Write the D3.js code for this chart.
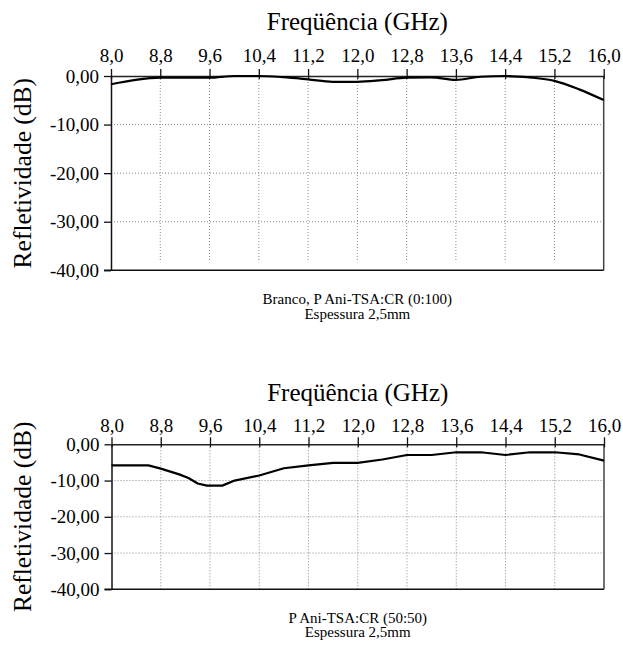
<!DOCTYPE html>
<html>
<head>
<meta charset="utf-8">
<script src="https://cdn.jsdelivr.net/npm/d3@7"></script>
<style>
  body { margin: 0; background: #fff; }
  svg text { font-family: "Liberation Serif", Tinos, "Times New Roman", Times, "DejaVu Serif", serif !important; fill: #000; }
</style>
</head>
<body>
<svg id="fig" width="623" height="651"></svg>
<script>
// tick values shared by both panels
const freqTicks = [8.0, 8.8, 9.6, 10.4, 11.2, 12.0, 12.8, 13.6, 14.4, 15.2, 16.0];
const dbTicks = [0, -10, -20, -30, -40];

// Branco, P Ani-TSA:CR (0:100)
const brancoFreq = [8.0, 8.4, 8.8, 9.2, 9.6, 10.0, 10.4, 10.8, 11.2, 11.6, 12.0, 12.4, 12.8, 13.2, 13.6, 14.0, 14.4, 14.8, 15.2, 15.6, 16.0];
const brancoDb   = [-1.7, -0.8, -0.35, -0.35, -0.35, 0, 0, -0.25, -0.7, -1.2, -1.2, -0.85, -0.35, -0.3, -0.8, -0.15, 0, -0.3, -1.0, -2.75, -4.95];

// P Ani-TSA:CR (50:50)
const pAniFreq = [8.0, 8.6, 8.8, 9.1, 9.25, 9.4, 9.55, 9.8, 10.0, 10.4, 10.8, 11.2, 11.6, 12.0, 12.4, 12.8, 13.2, 13.6, 14.0, 14.4, 14.8, 15.2, 15.6, 16.0];
const pAniDb   = [-5.8, -5.8, -6.7, -8.3, -9.3, -10.8, -11.4, -11.4, -10.0, -8.6, -6.6, -5.8, -5.1, -5.1, -4.2, -2.95, -2.95, -2.2, -2.2, -2.95, -2.2, -2.2, -2.8, -4.5];

const captionTop = ["Branco, P Ani-TSA:CR (0:100)", "Espessura 2,5mm"];
const captionBottom = ["P Ani-TSA:CR (50:50)", "Espessura 2,5mm"];

// comma decimals and plain hyphen minus
const loc = d3.formatLocale({decimal: ",", thousands: ".", grouping: [3], currency: ["", ""], minus: "-"});
const fmtX = loc.format(".1f");
const fmtY = loc.format(".2f");

const svg = d3.select('#fig');

function drawPanel(cfg, freq, db, curve, caption) {
  const x = d3.scaleLinear().domain([8, 16]).range([cfg.left, cfg.right]);
  const y = d3.scaleLinear().domain([0, -40]).range([cfg.top, cfg.bottom]);
  const g = svg.append('g');

  // dotted grid
  g.selectAll('.vgrid')
    .data(freqTicks.slice(1, -1))
    .enter().append('line')
    .attr('x1', d => x(d)).attr('x2', d => x(d))
    .attr('y1', cfg.top).attr('y2', cfg.bottom - cfg.gridGap)
    .attr('stroke', '#8a8a8a').attr('stroke-width', 1)
    .attr('stroke-dasharray', '1,2');

  g.selectAll('.hgrid')
    .data(dbTicks.slice(1, -1))
    .enter().append('line')
    .attr('x1', cfg.left).attr('x2', cfg.right)
    .attr('y1', d => y(d)).attr('y2', d => y(d))
    .attr('stroke', '#8a8a8a').attr('stroke-width', 1)
    .attr('stroke-dasharray', '1,2');

  // frame: right and bottom sides
  g.append('line')
    .attr('x1', cfg.right).attr('x2', cfg.right)
    .attr('y1', cfg.top).attr('y2', cfg.bottom)
    .attr('stroke', '#444').attr('stroke-width', 1.5);
  g.append('line')
    .attr('x1', cfg.left - 7).attr('x2', cfg.right)
    .attr('y1', cfg.bottom).attr('y2', cfg.bottom)
    .attr('stroke', '#111').attr('stroke-width', 1.5);

  // x axis on top
  const xAxis = d3.axisTop(x).tickValues(freqTicks).tickFormat(fmtX).tickSize(7).tickSizeOuter(0).tickPadding(4);
  const gx = g.append('g').attr('transform', `translate(0,${cfg.top})`).call(xAxis);
  gx.attr('font-family', null);
  gx.select('.domain').attr('stroke', '#222').attr('stroke-width', 1.5);
  gx.selectAll('.tick line').attr('y1', 3).attr('y2', -7).attr('stroke', '#111').attr('stroke-width', 1.3);
  gx.selectAll('.tick text')
    .attr('y', -cfg.tickLabelGap).attr('dy', 0)
    .style('font-size', '19px').attr('fill', '#000');

  // y axis
  const yAxis = d3.axisLeft(y).tickValues(dbTicks).tickFormat(fmtY).tickSize(7).tickSizeOuter(0).tickPadding(5);
  const gy = g.append('g').attr('transform', `translate(${cfg.left},0)`).call(yAxis);
  gy.attr('font-family', null);
  gy.select('.domain').attr('stroke', '#111').attr('stroke-width', 1.5);
  gy.selectAll('.tick line').attr('stroke', '#111').attr('stroke-width', 1.3);
  gy.selectAll('.tick text')
    .style('font-size', '19px').attr('fill', '#000');

  // data line
  const pts = freq.map((f, i) => [f, db[i]]);
  const line = d3.line().x(d => x(d[0])).y(d => y(d[1])).curve(curve);
  g.append('path')
    .datum(pts)
    .attr('d', line)
    .attr('fill', 'none')
    .attr('stroke', '#000')
    .attr('stroke-width', 2.2)
    .attr('stroke-linejoin', 'round');

  const cx = (cfg.left + cfg.right) / 2;

  // titles
  g.append('text')
    .attr('x', cx).attr('y', cfg.titleY)
    .attr('text-anchor', 'middle')
    .style('font-size', '25px')
    .text('Freqüência (GHz)');

  g.append('text')
    .attr('transform', `translate(31,${(cfg.top + cfg.bottom) / 2}) rotate(-90)`)
    .attr('text-anchor', 'middle')
    .style('font-size', '25.5px')
    .text('Refletividade (dB)');

  g.selectAll('.cap')
    .data(caption)
    .enter().append('text')
    .attr('x', cx)
    .attr('y', (d, i) => cfg.captionY + i * 14.5)
    .attr('text-anchor', 'middle')
    .style('font-size', '15px')
    .text(d => d);
}

drawPanel({left: 111, right: 603.7, top: 76, bottom: 270.3, gridGap: 8, tickLabelGap: 13.7, titleY: 30, captionY: 304},
  brancoFreq, brancoDb, d3.curveMonotoneX, captionTop);

drawPanel({left: 111.5, right: 604, top: 444.3, bottom: 589.3, gridGap: 0, tickLabelGap: 12.6, titleY: 401, captionY: 622.5},
  pAniFreq, pAniDb, d3.curveLinear, captionBottom);
</script>
</body>
</html>
